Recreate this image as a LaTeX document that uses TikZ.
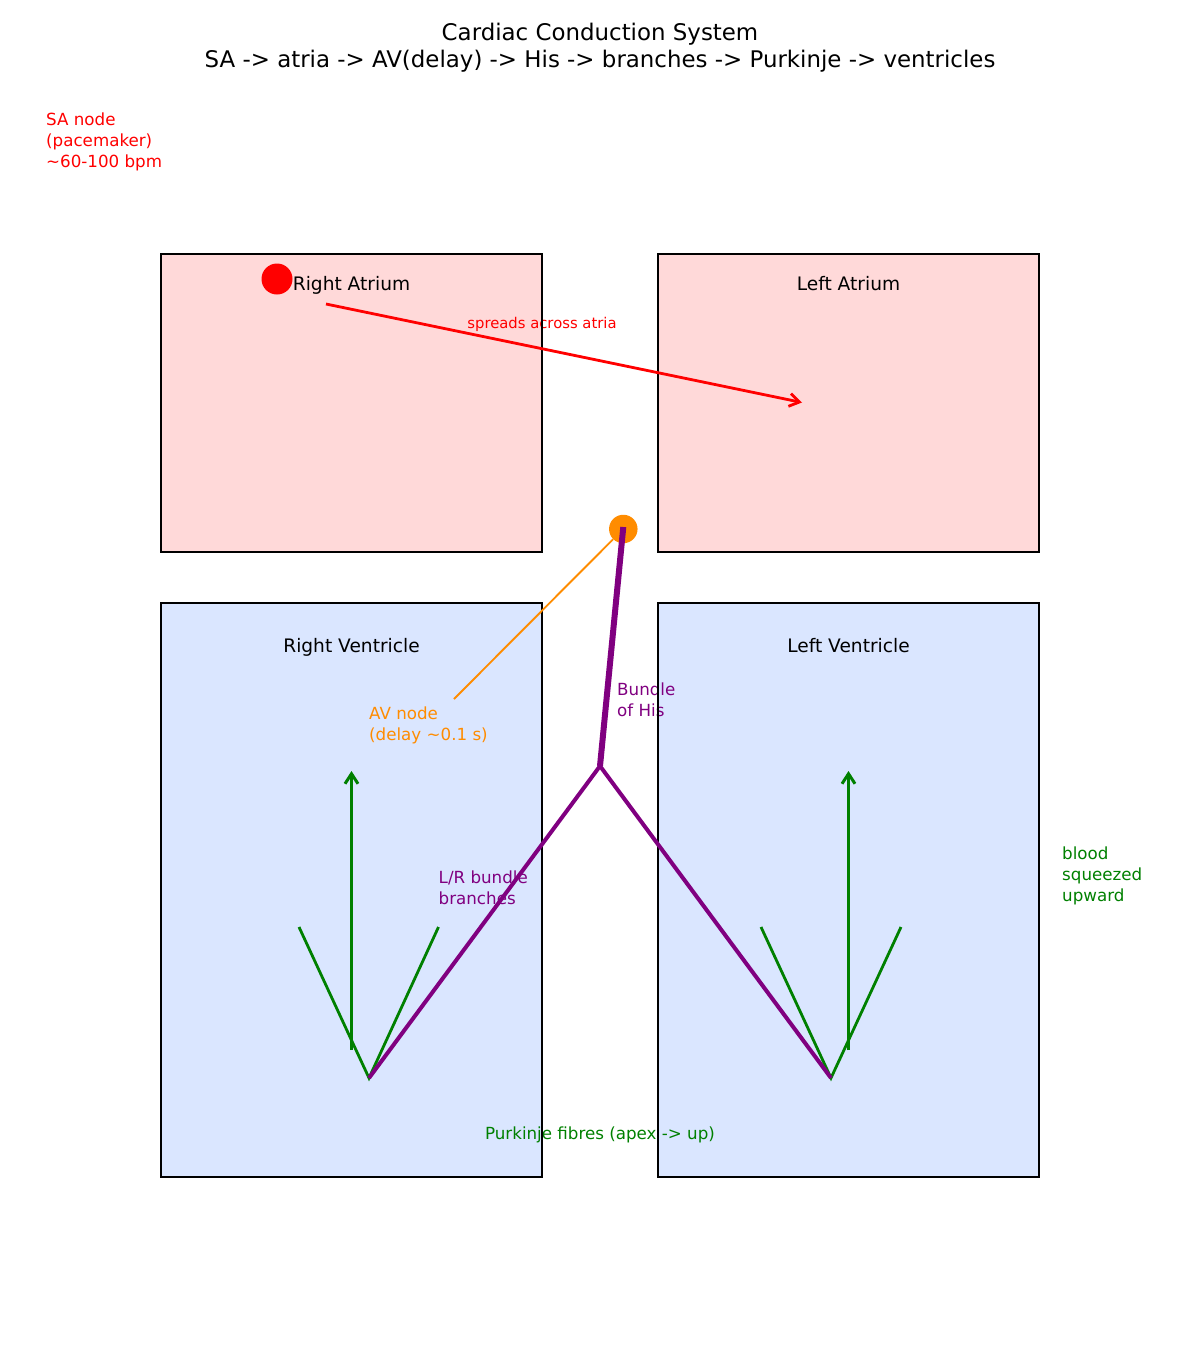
\documentclass[tikz,border=0pt]{standalone}
\usepackage{fontspec}
\setmainfont{DejaVu Sans}
\usetikzlibrary{arrows.meta}
\definecolor{atriumfill}{RGB}{255,217,217}
\definecolor{ventfill}{RGB}{218,230,255}
\definecolor{sared}{RGB}{255,0,0}
\definecolor{avorange}{RGB}{255,140,0}
\definecolor{hispurple}{RGB}{128,0,128}
\definecolor{pkgreen}{RGB}{0,128,0}
\tikzset{
  chamberlabel/.style={font=\fontsize{18.6}{22}\selectfont, inner sep=0pt},
  note/.style={font=\fontsize{16.7}{21}\selectfont, inner sep=0pt},
  small/.style={font=\fontsize{14.8}{17}\selectfont, inner sep=0pt},
  chamberfill/.style={fill=#1, draw=none},
  chamberborder/.style={draw=black, line width=2pt, fill=none},
  barb/.style={-{Straight Barb[length=10pt,width=13pt,line width=#1]}},
}
\begin{document}
\begin{tikzpicture}[x=1pt,y=-1pt]
\useasboundingbox (0,0) rectangle (1200,1350);
% chamber fills
\path[chamberfill=atriumfill] (161,254) rectangle (542,552);
\path[chamberfill=atriumfill] (658,254) rectangle (1039,552);
\path[chamberfill=ventfill] (161,603) rectangle (542,1177);
\path[chamberfill=ventfill] (658,603) rectangle (1039,1177);
% texts
\node[anchor=north, align=center, inner sep=0pt, font=\fontsize{22.9}{27.3}\selectfont] (title) at (600,22.4)
  {Cardiac Conduction System\\SA -> atria -> AV(delay) -> His -> branches -> Purkinje -> ventricles};
\node[note, text=sared, anchor=north west, align=left] (salabel) at (46,112.3)
  {SA node\\(pacemaker)\\\textasciitilde60-100 bpm};
\node[chamberlabel, anchor=base] (ralabel) at (351.5,290.6) {Right Atrium};
\node[chamberlabel, anchor=base] (lalabel) at (848.5,290.6) {Left Atrium};
\node[chamberlabel, anchor=base] (rvlabel) at (351.5,652.6) {Right Ventricle};
\node[chamberlabel, anchor=base] (lvlabel) at (848.5,652.6) {Left Ventricle};
\node[small, text=sared, anchor=base] (spread) at (542,328.4) {spreads across atria};
\node[note, text=avorange, anchor=north west, align=left] (avlabel) at (369,706.6)
  {AV node\\(delay \textasciitilde0.1 s)};
\node[note, text=hispurple, anchor=north west, align=left] (hislabel) at (617,682.3)
  {Bundle\\of His};
\node[note, text=hispurple, anchor=north west, align=left] (brlabel) at (438.5,870.6)
  {L/R bundle\\branches};
\node[note, text=pkgreen, anchor=base] (pklabel) at (600,1139.3) {Purkinje fibres (apex -> up)};
\node[note, text=pkgreen, anchor=north west, align=left] (bloodlabel) at (1062,846.6)
  {blood\\squeezed\\upward};
% chamber borders
\node[chamberborder, minimum width=381pt, minimum height=298pt, inner sep=0pt] (ra) at (351.5,403) {};
\node[chamberborder, minimum width=381pt, minimum height=298pt, inner sep=0pt] (la) at (848.5,403) {};
\node[chamberborder, minimum width=381pt, minimum height=574pt, inner sep=0pt] (rv) at (351.5,890) {};
\node[chamberborder, minimum width=381pt, minimum height=574pt, inner sep=0pt] (lv) at (848.5,890) {};
% coordinates
\coordinate (spreadstart) at (326,304);
\coordinate (spreadend) at (802,402.5);
\coordinate (avleader) at (454,699);
\coordinate (hisbase) at (600,766);
\coordinate (rapex) at (369,1078);
\coordinate (lapex) at (831,1078);
\coordinate (rfanl) at (299,927);
\coordinate (rfanr) at (438.5,927);
\coordinate (lfanl) at (761,927);
\coordinate (lfanr) at (901,927);
\coordinate (rupfrom) at (351.5,1050);
\coordinate (rupto) at (351.5,771);
\coordinate (lupfrom) at (848.5,1050);
\coordinate (lupto) at (848.5,771);
% SA node and spread arrow
\node[circle, fill=sared, minimum size=31pt, inner sep=0pt] (sa) at (277,279) {};
\draw[sared, line width=2.8pt, barb=2.8pt] (spreadstart) -- (spreadend);
% AV node
\node[circle, fill=avorange, minimum size=28.5pt, inner sep=0pt] (av) at (623.3,529) {};
\draw[avorange, line width=1.9pt] (av) -- (avleader);
% Purkinje fans
\draw[pkgreen, line width=2.8pt] (rfanl) -- (rapex) -- (rfanr);
\draw[pkgreen, line width=2.8pt] (lfanl) -- (lapex) -- (lfanr);
\draw[pkgreen, line width=3.4pt, barb=3pt] (rupfrom) -- (rupto);
\draw[pkgreen, line width=3.4pt, barb=3pt] (lupfrom) -- (lupto);
% Bundle of His and branches
\draw[hispurple, line width=6pt] (av.center) ++(0,-2) -- (hisbase);
\draw[hispurple, line width=4pt, line join=round] (rapex) -- (hisbase) -- (lapex);
\end{tikzpicture}
\end{document}
